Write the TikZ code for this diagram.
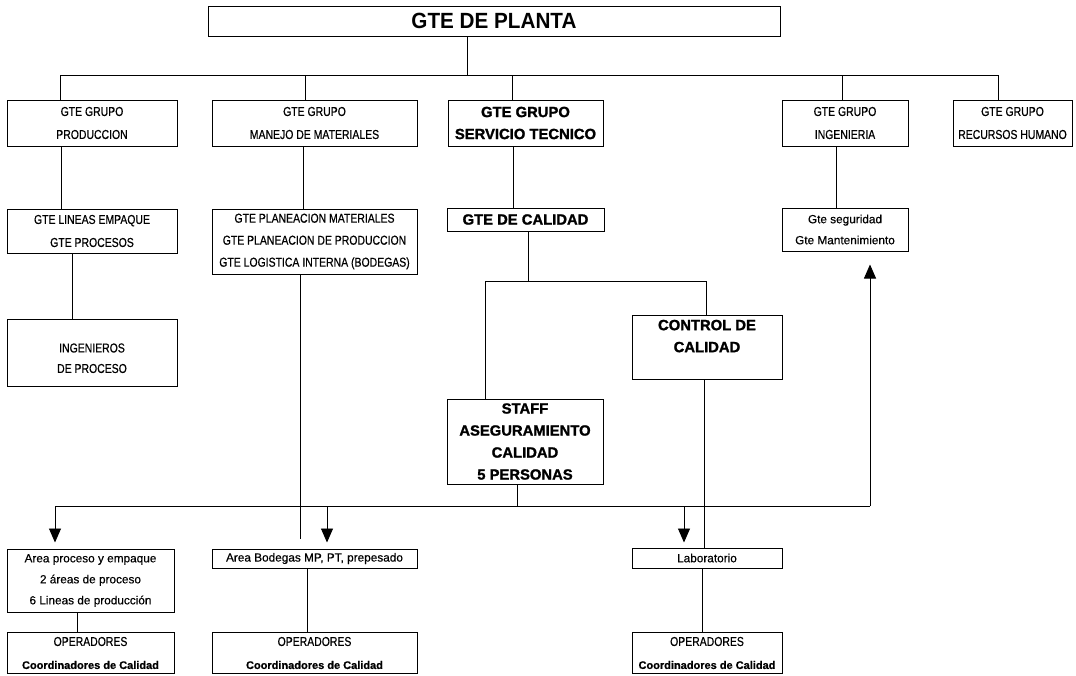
\documentclass[tikz,border=0pt]{standalone}
\usepackage{fontspec}
\setmainfont{Liberation Sans}[FakeBold=0.4, BoldFeatures={FakeBold=0.6}]
\newfontfamily\capf{Liberation Sans}[FakeStretch=0.81, FakeBold=0.5]
\newfontfamily\topf{Liberation Sans}[FakeStretch=0.94]
\newfontfamily\hvy{Liberation Sans}[BoldFeatures={FakeBold=1.4}]
\usetikzlibrary{arrows.meta}
\begin{document}
\begin{tikzpicture}[x=1pt,y=-1pt,
  box/.style={draw, line width=1pt, inner sep=0pt, align=center,
    font={\capf\fontsize{12.9}{23}\selectfont}},
  reg/.style={font={\rmfamily\fontsize{11.8}{21}\selectfont}},
  bld/.style={font={\hvy\bfseries\fontsize{14.8}{22}\selectfont}},
  opbox/.style={box},
  ln/.style={line width=0.9pt},
  arr/.style={ln, -{Triangle[width=12pt,length=14pt]}}
]
\useasboundingbox (0,0) rectangle (1076,675);
\fill[white] (0,0) rectangle (1076,675);

% boxes
\node[box, minimum width=572pt, minimum height=30pt,
  font={\topf\bfseries\fontsize{22}{26}\selectfont}] (top) at (494,21) {GTE DE PLANTA};

\node[box, minimum width=170pt, minimum height=46pt] (prod) at (92,123) {GTE GRUPO\\PRODUCCION};
\node[box, minimum width=205pt, minimum height=46pt] (mm) at (314.5,123) {GTE GRUPO\\MANEJO DE MATERIALES};
\node[box, bld, minimum width=155pt, minimum height=46pt] (st) at (525.5,123) {GTE GRUPO\\SERVICIO TECNICO};
\node[box, minimum width=126pt, minimum height=46pt] (ing) at (845,123) {GTE GRUPO\\INGENIERIA};
\node[box, minimum width=119pt, minimum height=46pt] (rh) at (1012.5,123) {GTE GRUPO\\RECURSOS HUMANO};

\node[box, minimum width=170pt, minimum height=44pt] (lin) at (92,231) {GTE LINEAS EMPAQUE\\GTE PROCESOS};
\node[box, minimum width=205pt, minimum height=65pt, font={\capf\fontsize{12.9}{22}\selectfont}] (plan) at (314.5,241.5)
  {GTE PLANEACION MATERIALES\\GTE PLANEACION DE PRODUCCION\\GTE LOGISTICA INTERNA (BODEGAS)};
\node[box, bld, minimum width=157pt, minimum height=23pt] (cal) at (525.5,219.5) {GTE DE CALIDAD};
\node[box, reg, minimum width=126pt, minimum height=43pt] (seg) at (845,229.5) {Gte seguridad\\Gte Mantenimiento};

\node[box, minimum width=170pt, minimum height=67pt, font={\capf\fontsize{12.9}{20.5}\selectfont}] (ingp) at (92,352.5) {\mbox{}\\INGENIEROS\\DE PROCESO};
\node[box, bld, minimum width=150pt, minimum height=64pt] (ctrl) at (707,347) {CONTROL DE\\CALIDAD\\\mbox{}};
\node[box, bld, minimum width=156pt, minimum height=85pt] (staff) at (525,441.5)
  {STAFF\\ASEGURAMIENTO\\CALIDAD\\5 PERSONAS};

\node[box, reg, minimum width=167pt, minimum height=63pt] (ap) at (90.5,580.5)
  {Area proceso y empaque\\2 áreas de proceso\\6 Lineas de producción};
\node[box, reg, minimum width=205pt, minimum height=19pt] (ab) at (314.5,558.5) {Area Bodegas MP, PT, prepesado};
\node[box, reg, minimum width=150pt, minimum height=20pt] (lab) at (707,558) {Laboratorio};

\node[opbox, minimum width=167pt, minimum height=41pt] (op1) at (90.5,653)
  {OPERADORES\\{\rmfamily\bfseries\fontsize{11}{23}\selectfont Coordinadores de Calidad}};
\node[opbox, minimum width=205pt, minimum height=41pt] (op2) at (314.5,653)
  {OPERADORES\\{\rmfamily\bfseries\fontsize{11}{23}\selectfont Coordinadores de Calidad}};
\node[opbox, minimum width=150pt, minimum height=41pt] (op3) at (707,653)
  {OPERADORES\\{\rmfamily\bfseries\fontsize{11}{23}\selectfont Coordinadores de Calidad}};

% first bus
\coordinate (t1) at (467,75);
\coordinate (b1L) at (60,75);
\coordinate (b1R) at (998,75);
\coordinate (d2) at (305,75);
\coordinate (d3) at (512,75);
\coordinate (d4) at (842,75);
\draw[ln] (t1 |- top.south) -- (t1);
\draw[ln] (b1L) -- (b1R);
\draw[ln] (b1L) -- (b1L |- prod.north);
\draw[ln] (d2) -- (d2 |- mm.north);
\draw[ln] (d3) -- (d3 |- st.north);
\draw[ln] (d4) -- (d4 |- ing.north);
\draw[ln] (b1R) -- (b1R |- rh.north);

% second level
\coordinate (v1) at (61,0);
\coordinate (v2) at (303,0);
\coordinate (v3) at (513,0);
\coordinate (v4) at (836,0);
\coordinate (v5) at (72,0);
\draw[ln] (v1 |- prod.south) -- (v1 |- lin.north);
\draw[ln] (v2 |- mm.south) -- (v2 |- plan.north);
\draw[ln] (v3 |- st.south) -- (v3 |- cal.north);
\draw[ln] (v4 |- ing.south) -- (v4 |- seg.north);
\draw[ln] (v5 |- lin.south) -- (v5 |- ingp.north);
\coordinate (v6end) at (300,539);
\draw[ln] (v6end |- plan.south) -- (v6end);

% quality bus
\coordinate (b2L) at (485,281);
\coordinate (b2R) at (706,281);
\coordinate (b2m) at (528,281);
\draw[ln] (b2m |- cal.south) -- (b2m);
\draw[ln] (b2L) -- (b2R);
\draw[ln] (b2L) -- (b2L |- staff.north);
\draw[ln] (b2R) -- (b2R |- ctrl.north);
\coordinate (v7) at (704,0);
\draw[ln] (v7 |- ctrl.south) -- (v7 |- lab.north);

% lower bus
\coordinate (b3L) at (55,506);
\coordinate (b3R) at (870,506);
\coordinate (b3m) at (517,506);
\coordinate (a2) at (327,506);
\coordinate (a3) at (684,506);
\draw[ln] (b3m |- staff.south) -- (b3m);
\draw[ln] (b3L) -- (b3R);
\draw[arr, shorten >=6pt] (b3L) -- (b3L |- ap.north);
\draw[arr, shorten >=6pt] (a2) -- (a2 |- ab.north);
\draw[arr, shorten >=5pt] (a3) -- (a3 |- lab.north);
\draw[arr, shorten >=13pt] (b3R) -- (b3R |- seg.south);

% bottom level
\coordinate (v8) at (77,0);
\coordinate (v9) at (307,0);
\coordinate (v10) at (702,0);
\draw[ln] (v8 |- ap.south) -- (v8 |- op1.north);
\draw[ln] (v9 |- ab.south) -- (v9 |- op2.north);
\draw[ln] (v10 |- lab.south) -- (v10 |- op3.north);
\end{tikzpicture}
\end{document}
